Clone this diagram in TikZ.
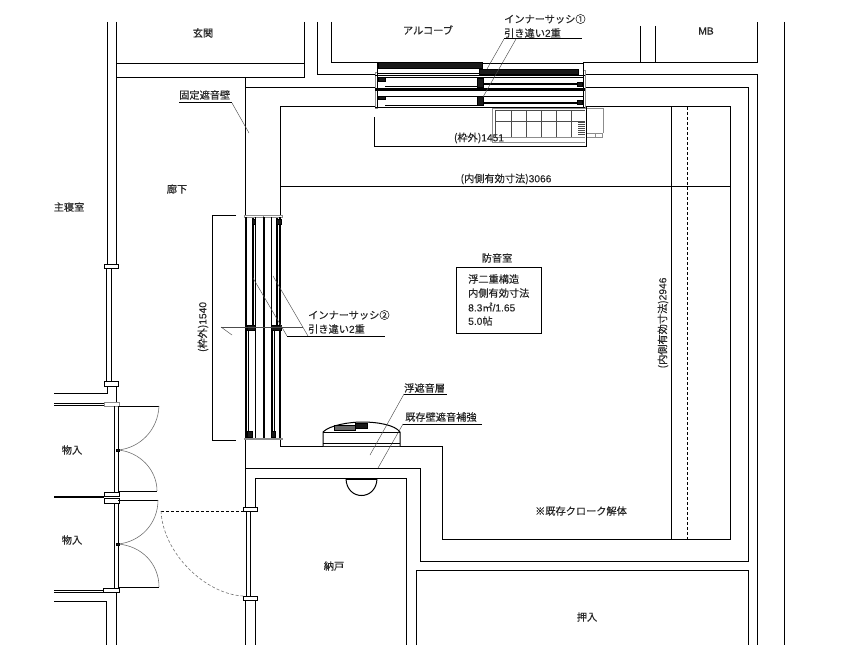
\documentclass[tikz,border=0pt]{standalone}
\usepackage{fontspec}
\setmainfont[FakeBold=0.35]{Noto Sans CJK JP}
\newfontfamily\numfont[FakeBold=0.2]{Liberation Sans}
\begin{document}
\begin{tikzpicture}[
    x=1pt,y=-1pt,
    wall/.style={draw=black,line width=1pt},
    sash/.style={draw=black,line width=0.9pt},
    heavy/.style={draw=black,line width=2pt},
    jamb/.style={draw=black,fill=white,line width=0.8pt},
    block/.style={draw=black,fill=black!90,line width=0.4pt},
    leader/.style={draw=black!70,line width=0.45pt},
    uline/.style={draw=black,line width=1pt},
    swing/.style={draw=black!55,line width=0.6pt},
    furn/.style={draw=black!45,line width=0.5pt},
    furndark/.style={draw=black!70,line width=0.6pt},
    lbl/.style={font=\fontsize{10.2}{12}\selectfont,inner sep=0pt,text=black!85},
    ]
    \useasboundingbox (0,0) rectangle (844,669);
    % outer walls
    \draw[wall] (116.5,22) -- (116.5,64) -- (304,64);
    \draw[wall] (304,22) -- (304,78) -- (116.5,78);
    \draw[wall] (107,22) -- (107,264);
    \draw[wall] (116.5,22) -- (116.5,264);
    \draw[wall] (317,22) -- (317,75) -- (375,75);
    \draw[wall] (331,22) -- (331,62.5) -- (377,62.5);
    \draw[wall] (583,62.5) -- (757,62.5) -- (757,22);
    \draw[wall] (640,26) -- (640,62.5);
    \draw[wall] (655,26) -- (655,62.5);
    \draw[wall] (585,75) -- (757.5,75) -- (757.5,645);
    \draw[wall] (245,78) -- (245,215);
    \draw[wall] (245,438) -- (245,507);
    \draw[wall] (245,88) -- (375,88);
    \draw[wall] (585,88) -- (748,88) -- (748,561) -- (420,561) -- (420,468) -- (245,468);
    \draw[wall] (784,22) -- (784,645);
    % room
    \draw[wall] (280,215) -- (280,107) -- (375,107);
    \draw[wall] (585,107) -- (730,107) -- (730,539) -- (442,539) -- (442,446) -- (280,446) -- (280,438);
    \draw[wall] (280,186) -- (730,186);
    \draw[wall] (671,107) -- (671,539);
    \draw[wall,densely dashed] (687,107) -- (687,539);
    % closet and storage
    \draw[wall] (255,507) -- (255,478) -- (406,478) -- (406,645);
    \draw[wall] (245,600) -- (245,645);
    \draw[wall] (255,600) -- (255,645);
    \draw[wall] (416,645) -- (416,570) -- (748,570) -- (748,645);
    % left side
    \draw[wall] (106,268) -- (106,381);
    \draw[wall] (111,268) -- (111,381);
    \draw[jamb] (104,264) rectangle (118,268);
    \draw[jamb] (104,381) rectangle (118,386);
    \draw[wall] (107,386) -- (107,393) -- (54,393);
    \draw[wall] (116.5,386) -- (116.5,402);
    \draw[sash] (54,403) -- (104,403);
    \draw[sash] (54,405) -- (104,405);
    \draw[heavy] (54,497) -- (104,497);
    \draw[sash] (54,590) -- (104,590);
    \draw[sash] (54,592) -- (104,592);
    \draw[wall] (54,601) -- (106,601) -- (106,645);
    \draw[wall] (116.5,592) -- (116.5,645);
    \draw[furn,fill=white] (104,402) rectangle (119,406);
    \foreach \xl in {114.5,118.5} {
        \draw[sash] (\xl,406) -- (\xl,492);
        \draw[sash] (\xl,500) -- (\xl,588);
    }
    \draw[jamb] (104,492) rectangle (119,496);
    \draw[jamb] (104,498) rectangle (119,503);
    \draw[jamb] (103,588) rectangle (119,592);
    % doors
    \draw[wall] (118,406) -- (159,406);
    \draw[wall] (118,491) -- (157,491);
    \draw[wall] (118,500) -- (158,500);
    \draw[wall] (118,587) -- (159,587);
    \draw[swing] (159,406) .. controls (158,430) and (140,448) .. (118,450);
    \draw[swing] (118,450) .. controls (140,452) and (157,470) .. (157,491);
    \draw[swing] (158,500) .. controls (158,524) and (140,542) .. (118,544);
    \draw[swing] (118,544) .. controls (142,546) and (159,564) .. (159,587);
    \draw[block] (116,449) rectangle (119,451);
    \draw[block] (116,543) rectangle (119,545);
    \draw[wall,densely dashed] (161,511) -- (243,511);
    \draw[swing,densely dashed] (161,511) .. controls (163,553) and (205,594) .. (243,596);
    \draw[sash] (246,511) -- (246,596);
    \draw[sash] (250,511) -- (250,596);
    \draw[jamb] (243,507) rectangle (257,511);
    \draw[jamb] (243,596) rectangle (257,600);
    % window 2
    \draw[furn] (244,215) rectangle (263,217);
    \draw[furn] (263,215) rectangle (282,217);
    \draw[furn] (244,438) rectangle (263,439);
    \draw[furn] (263,438) rectangle (282,439);
    \foreach \xv in {245.5,263.5,279.5} {
        \draw[heavy] (\xv,217) -- (\xv,438);
    }
    \draw[sash] (255,217) -- (255,438);
    \draw[heavy] (252.5,218) -- (252.5,325);
    \draw[sash] (248.5,330) -- (248.5,437);
    \draw[sash] (271,217) -- (271,325);
    \draw[heavy] (277,218) -- (277,325);
    \draw[heavy] (271.5,330) -- (271.5,437);
    \draw[sash] (274.5,330) -- (274.5,437);
    \foreach \xb/\wb in {252/3,276/5} {
        \draw[block] (\xb,219) rectangle ++(\wb,5);
    }
    \foreach \xb/\wb in {247/8,271/10} {
        \draw[block] (\xb,325) rectangle ++(\wb,5);
    }
    \draw[block] (247,431) rectangle (252,437);
    \draw[block] (271,431) rectangle (275,437);
    % window 1
    \draw[furn] (375,72) rectangle (377,108);
    \draw[furn] (583,70) rectangle (585,108);
    \draw[sash] (377,62.5) -- (377,108);
    \draw[sash] (583,62.5) -- (583,108);
    \draw[block] (378,62.5) rectangle (482,68);
    \draw[block] (479,69) rectangle (578,74);
    \draw[sash] (482,63) -- (583,63);
    \draw[sash] (377,73) -- (480,73);
    \draw[sash] (375,75.5) -- (585,75.5);
    \draw[sash] (375,88) -- (585,88);
    \draw[heavy] (375,90.5) -- (585,90.5);
    \draw[sash] (375,107.7) -- (585,107.7);
    \foreach \ya in {0,18.5} {
        \draw[sash] (377,77.7+\ya) -- (583,77.7+\ya);
        \draw[sash] (385,86.7+\ya) -- (478,86.7+\ya);
        \draw[heavy] (482,84.5+\ya) -- (578,84.5+\ya);
        \draw[block] (378,77.7+\ya) rectangle (385,81+\ya);
        \draw[block] (477,78+\ya) rectangle (483,87+\ya);
        \draw[block] (577,82+\ya) rectangle (582,86+\ya);
    }
    % furniture behind window 1
    \draw[furn] (492,108) -- (492,142) -- (585,142);
    \draw[furn] (492,108) -- (603,108) -- (603,133);
    \draw[furn] (587,133) -- (602,133) -- (602,137) -- (587,137);
    \draw[furn] (595,133) -- (595,137);
    \foreach \xf in {495,511,526,541,556,571} {
        \draw[furndark] (\xf,110) -- (\xf,137);
    }
    \draw[furndark] (495,110) -- (585,110);
    \draw[furndark] (495,121) -- (585,121);
    \draw[furn] (495,137) -- (585,137);
    \foreach \yh in {122,124,...,134} {
        \draw[furndark] (578,\yh) -- (585,\yh);
    }
    % air conditioner
    \draw[wall,fill=white] (323,446) -- (323,432) .. controls (330,425) and (350,422) .. (362,422) .. controls (378,422) and (395,425) .. (400,432) -- (400,446);
    \draw[wall] (323,432) -- (400,432);
    \draw[wall] (323,443) -- (400,443);
    \draw[block,fill=black!60] (334,425) rectangle (355,430);
    \draw[block] (355,423.5) rectangle (367,428.5);
    % closet light
    \draw[wall,fill=white] (346,479) .. controls (347,501) and (376,501) .. (377,479);
    \draw[heavy] (346,479) -- (377,479);
    % dimensions
    \coordinate (dimtl) at (236,215);
    \coordinate (dimbl) at (236,440);
    \draw[wall] (dimtl) -- (212,215) -- (212,440) -- (dimbl);
    \coordinate (dimlt) at (374,117);
    \coordinate (dimrt) at (586,107);
    \draw[wall] (dimlt) -- (374,146) -- (586,146) -- (dimrt);
    \coordinate (cenl) at (221,327);
    \coordinate (cenr) at (303,327);
    \coordinate (cent) at (232,335);
    \draw[leader] (cenl) -- (cenr);
    \draw[leader] (cenl) -- (cent);
    % labels
    \node[lbl] (genkan) at (203,33) {玄関};
    \node[lbl] (alcove) at (428,30) {アルコーブ};
    \node[lbl] (mb) at (706,31) {\numfont MB};
    \node[lbl] (rouka) at (177,189) {廊下};
    \node[lbl] (shushin) at (69,207) {主寝室};
    \node[lbl] (mono1) at (72,450) {物入};
    \node[lbl] (mono2) at (72,540) {物入};
    \node[lbl] (nando) at (334,566) {納戸};
    \node[lbl] (oshi) at (587,617) {押入};
    \node[lbl] (kaitai) at (581,511) {※既存クローク解体};
    \node[lbl] (bouon) at (497,258) {防音室};
    \node[lbl] (w1dim) at (479,138) {(枠外){\numfont 1451}};
    \node[lbl] (w2dim) at (203,327) [rotate=90] {(枠外){\numfont 1540}};
    \node[lbl] (indimh) at (506,179) {(内側有効寸法){\numfont 3066}};
    \node[lbl] (indimv) at (663,323) [rotate=90] {(内側有効寸法){\numfont 2946}};
    \node[draw=black,line width=1pt,minimum width=85pt,minimum height=66pt,inner sep=0pt] (spec) at (498.5,300) {};
    \node[lbl,anchor=west] (spec1) at (468,279) {浮二重構造};
    \node[lbl,anchor=west] (spec2) at (468,293) {内側有効寸法};
    \node[lbl,anchor=west] (spec3) at (468,307) {{\numfont 8.3}㎡{\numfont /1.65}};
    \node[lbl,anchor=west] (spec4) at (468,321) {{\numfont 5.0}帖};
    % leaders
    \node[lbl,anchor=west] (kotei) at (179,95) {固定遮音壁};
    \coordinate (koteiend) at (249,133);
    \draw[uline] (kotei.west |- 0,103) coordinate (koteia) -- (232,103) coordinate (koteib);
    \draw[leader] (koteib) -- (koteiend);
    \node[lbl,anchor=west] (sash1) at (504,19) {インナーサッシ①};
    \node[lbl,anchor=west] (sash1b) at (504,33) {引き違い{\numfont 2}重};
    \draw[uline] (504,39) coordinate (sash1a) -- (582,39);
    \coordinate (sash1c) at (516,39);
    \coordinate (sash1d) at (487,69);
    \coordinate (sash1e) at (483,97);
    \draw[leader] (sash1a) -- (sash1d);
    \draw[leader] (sash1c) -- (sash1e);
    \node[lbl,anchor=west] (sash2) at (308,315) {インナーサッシ②};
    \node[lbl,anchor=west] (sash2b) at (308,329) {引き違い{\numfont 2}重};
    \draw[uline] (287,336) coordinate (sash2a) -- (385,336);
    \coordinate (sash2c) at (308,336);
    \coordinate (sash2d) at (253,278);
    \coordinate (sash2e) at (273,276);
    \draw[leader] (sash2a) -- (sash2d);
    \draw[leader] (sash2c) -- (sash2e);
    \node[lbl,anchor=west] (fuyu) at (404,388) {浮遮音層};
    \draw[uline] (404,394) coordinate (fuyua) -- (447,394);
    \coordinate (fuyue) at (370,455);
    \draw[leader] (fuyua) -- (fuyue);
    \node[lbl,anchor=west] (kizon) at (405,417) {既存壁遮音補強};
    \draw[uline] (403,424) coordinate (kizona) -- (482,424);
    \coordinate (kizone) at (378,468);
    \draw[leader] (kizona) -- (kizone);
\end{tikzpicture}
\end{document}
